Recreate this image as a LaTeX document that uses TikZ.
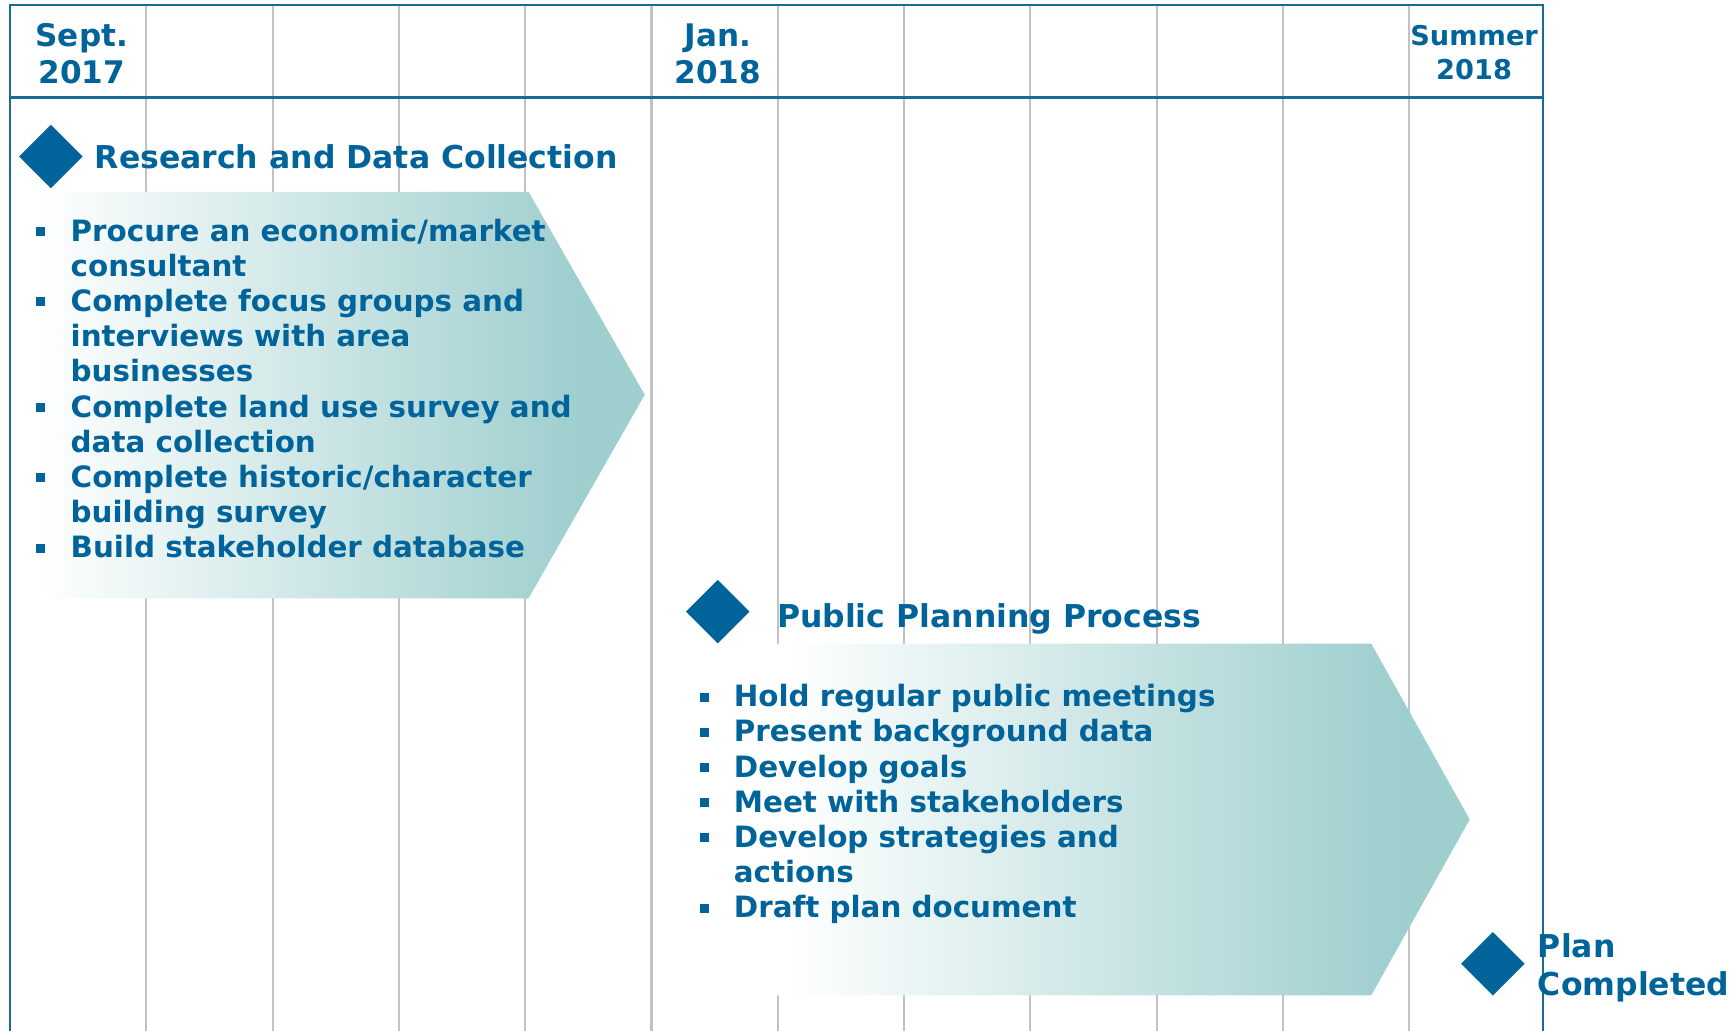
\documentclass[tikz,border=0pt]{standalone}
\usepackage{fontspec}
\setmainfont{DejaVu Sans}
\usetikzlibrary{shapes.geometric}
\definecolor{tblau}{HTML}{00639A}
\definecolor{rahmen}{HTML}{1D6996}
\definecolor{gitter}{HTML}{C2C2C2}
\definecolor{tuerkis}{HTML}{9ECECE}
\pgfdeclarehorizontalshading{verlauf}{100bp}{color(0bp)=(white); color(27bp)=(white); color(70bp)=(tuerkis); color(100bp)=(tuerkis)}
\newcommand{\pkt}{\makebox[8.8pt][l]{\rule[1.3pt]{2.3pt}{2.3pt}}}
\tikzset{
  gitterl/.style={gitter,line width=0.55pt},
  rahmenl/.style={rahmen,line width=0.55pt},
  kopfl/.style={rahmen,line width=0.9pt},
  pfeil/.style={shading=verlauf},
  raute/.style={diamond,fill=tblau,inner sep=0pt,minimum width=0.58cm,minimum height=0.58cm},
  titel/.style={tblau,anchor=base west,inner sep=0pt,font=\fontsize{8.1}{9.67}\selectfont\bfseries},
  liste/.style={tblau,anchor=base west,inner sep=0pt,font=\fontsize{7.55}{9.05}\selectfont\bfseries},
  kopf/.style={tblau,anchor=base,inner sep=0pt,font=\fontsize{8}{9.67}\selectfont\bfseries},
}
\begin{document}
\begin{tikzpicture}[x=0.01cm,y=-0.01cm]
  \useasboundingbox (0,0) rectangle (1568,932);
  % Monatsraster
  \foreach \i in {0,...,10}
    \draw[gitterl] ({132.3+114.2*\i},4.5) -- ({132.3+114.2*\i},932);
  % Phasenpfeile
  \shade[pfeil] (10,173.5) -- (478,173.5) -- (583,357) -- (478,541) -- (10,541) -- cycle;
  \shade[pfeil] (684,582) -- (1240,582) -- (1329,741) -- (1240,900) -- (684,900) -- cycle;
  % Rahmen und Kopfzeile
  \draw[rahmenl] (9,932) -- (9,4.5) -- (1395,4.5) -- (1395,932);
  \draw[kopfl] (9,88.3) -- (1395,88.3);
  \node[kopf] (sept) at (74,41.6) {\begin{tabular}[t]{@{}c@{}}Sept.\\2017\end{tabular}};
  \node[kopf] (jan) at (649,41.6) {\begin{tabular}[t]{@{}c@{}}Jan.\\2018\end{tabular}};
  \node[kopf,font=\fontsize{7}{8.8}\selectfont\bfseries] (sommer) at (1333,41) {\begin{tabular}[t]{@{}c@{}}Summer\\2018\end{tabular}};
  % Phase 1
  \node[raute] (r1) at (46,141.5) {};
  \node[titel] (t1) at (85,152) {Research and Data Collection};
  \node[liste] (l1) at (32.3,218) {\begin{tabular}[t]{@{}l@{}l@{}}
    \pkt & Procure an economic/market\\
         & consultant\\
    \pkt & Complete focus groups and\\
         & interviews with area\\
         & businesses\\
    \pkt & Complete land use survey and\\
         & data collection\\
    \pkt & Complete historic/character\\
         & building survey\\
    \pkt & Build stakeholder database
  \end{tabular}};
  % Phase 2
  \node[raute] (r2) at (649,553) {};
  \node[titel] (t2) at (702,567) {Public Planning Process};
  \node[liste] (l2) at (632,639) {\begin{tabular}[t]{@{}l@{}l@{}}
    \pkt & Hold regular public meetings\\
    \pkt & Present background data\\
    \pkt & Develop goals\\
    \pkt & Meet with stakeholders\\
    \pkt & Develop strategies and\\
         & actions\\
    \pkt & Draft plan document
  \end{tabular}};
  % Abschluss
  \node[raute] (r3) at (1350,871.5) {};
  \node[titel] (t3) at (1390,866) {\begin{tabular}[t]{@{}l@{}}Plan\\Completed\end{tabular}};
\end{tikzpicture}
\end{document}
